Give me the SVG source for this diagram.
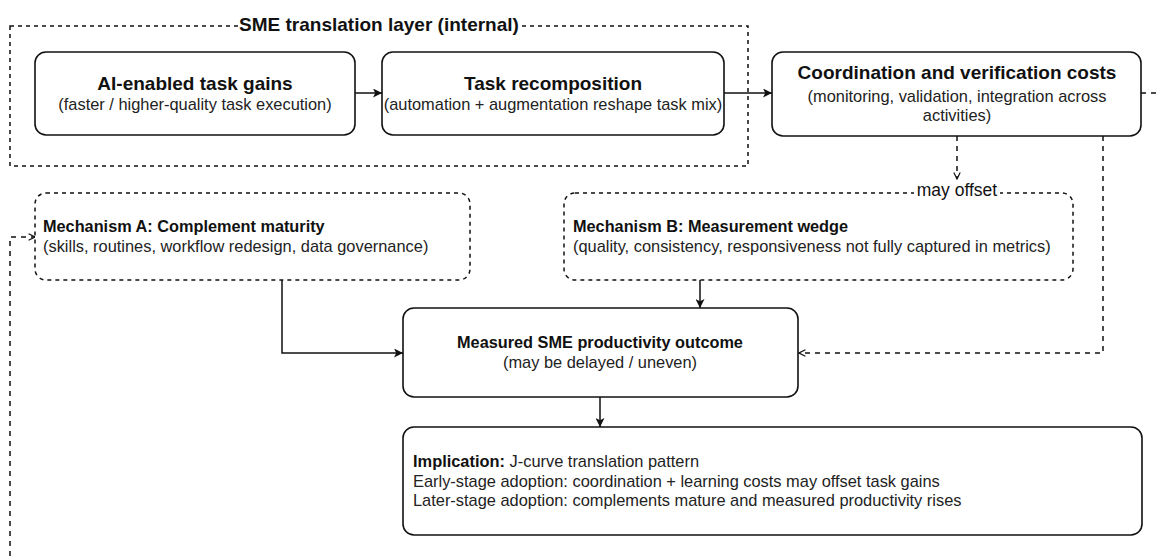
<svg xmlns="http://www.w3.org/2000/svg" width="1157" height="560" viewBox="0 0 1157 560">
<style>
text { font-family: "Liberation Sans", Arial, Helvetica, sans-serif; fill: #111; }
.t { font-size: 19px; font-weight: bold; text-anchor: middle; }
.s { font-size: 16.4px; text-anchor: middle; fill: #222; }
.mt { font-size: 16.3px; font-weight: bold; }
.ms { font-size: 16.4px; fill: #222; }
.box { fill: #fff; stroke: #111; stroke-width: 1.6; }
.dbox { fill: #fff; stroke: #111; stroke-width: 1.5; stroke-dasharray: 4 4; }
.cont { fill: none; stroke: #111; stroke-width: 1.5; stroke-dasharray: 4 4; }
.c { fill: none; stroke: #111; stroke-width: 1.5; }
.cd { fill: none; stroke: #111; stroke-width: 1.5; stroke-dasharray: 5 5; }
.lbg { fill: #fff; }
</style>
<defs>
<marker id="fa" viewBox="0 0 10 10" refX="10" refY="5" markerWidth="9" markerHeight="9" markerUnits="userSpaceOnUse" orient="auto"><path d="M0,0 L10,5 L0,10 L2.5,5 z" fill="#111"/></marker>
<marker id="oa" viewBox="0 0 10 10" refX="9" refY="5" markerWidth="8" markerHeight="8" markerUnits="userSpaceOnUse" orient="auto"><path d="M1,1 L9,5 L1,9" fill="none" stroke="#111" stroke-width="1.5"/></marker>
</defs>
<rect width="1157" height="560" fill="#fff"/>

<g id="container">
<rect class="cont" x="10" y="26" width="738" height="140"/>
<rect class="lbg" x="239" y="13" width="281" height="23"/>
<text class="t" x="379" y="31">SME translation layer (internal)</text>
</g>

<g id="connectors">
<path class="c" d="M355,93 L382,93" marker-end="url(#fa)"/>
<path class="c" d="M724,93 L772,93" marker-end="url(#fa)"/>
<path class="cd" d="M1141,93 L1157,93"/>
<path class="cd" d="M957,136 L957,179" marker-end="url(#oa)"/>
<path class="cd" d="M1103,136 L1103,353 L799,353" marker-end="url(#oa)"/>
<path class="c" d="M282,280 L282,353 L403,353" marker-end="url(#fa)"/>
<path class="c" d="M700,280 L700,308" marker-end="url(#fa)"/>
<path class="c" d="M600,397 L600,427" marker-end="url(#fa)"/>
<path class="cd" d="M10,556 L10,237 L35,237" marker-end="url(#oa)"/>
</g>

<g id="ai-gains">
<rect class="box" x="35" y="52" width="320" height="83" rx="11"/>
<text class="t" x="195" y="90">AI-enabled task gains</text>
<text class="s" x="195" y="110">(faster / higher-quality task execution)</text>
</g>

<g id="task-recomposition">
<rect class="box" x="382" y="52" width="342" height="83" rx="11"/>
<text class="t" x="553" y="90">Task recomposition</text>
<text class="s" x="553" y="110">(automation + augmentation reshape task mix)</text>
</g>

<g id="coordination">
<rect class="box" x="772" y="52" width="369" height="84" rx="11"/>
<text class="t" x="957" y="79">Coordination and verification costs</text>
<text class="s" x="957" y="102">(monitoring, validation, integration across</text>
<text class="s" x="957" y="121">activities)</text>
</g>

<g id="mechanism-a">
<rect class="dbox" x="35" y="193" width="435" height="87" rx="11"/>
<text class="mt" x="43" y="232">Mechanism A: Complement maturity</text>
<text class="ms" x="43" y="252">(skills, routines, workflow redesign, data governance)</text>
</g>

<g id="mechanism-b">
<rect class="dbox" x="564" y="193" width="509" height="87" rx="11"/>
<text class="mt" x="573" y="232">Mechanism B: Measurement wedge</text>
<text class="ms" x="573" y="252">(quality, consistency, responsiveness not fully captured in metrics)</text>
<rect class="lbg" x="914" y="180" width="86" height="21"/>
<text x="957" y="196" font-size="17.5" text-anchor="middle">may offset</text>
</g>

<g id="measured-outcome">
<rect class="box" x="403" y="308" width="395" height="89" rx="11"/>
<text class="mt" x="600" y="348" text-anchor="middle">Measured SME productivity outcome</text>
<text class="s" x="600" y="368">(may be delayed / uneven)</text>
</g>

<g id="implication">
<rect class="box" x="403" y="427" width="739" height="108" rx="11"/>
<text class="ms" x="413" y="467"><tspan font-weight="bold" fill="#111">Implication:</tspan> J-curve translation pattern</text>
<text class="ms" x="413" y="487">Early-stage adoption: coordination + learning costs may offset task gains</text>
<text class="ms" x="413" y="506">Later-stage adoption: complements mature and measured productivity rises</text>
</g>
</svg>
